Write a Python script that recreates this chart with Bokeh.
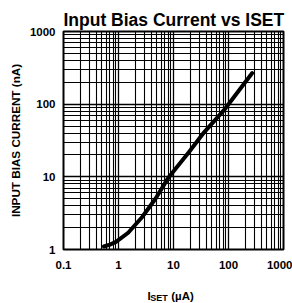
from bokeh.plotting import figure
from bokeh.layouts import column
from bokeh.models import FixedTicker, CustomJSTickFormatter, Range1d, Title
from bokeh.core.properties import value
from bokeh.embed import file_html
from bokeh.resources import INLINE

# ---- data ----
iset_uA = [0.54, 0.7, 0.9, 1.5, 2.7, 4.7, 8.2, 19.0, 36.0, 82.0, 270.0]
ibias_nA = [1.1, 1.17, 1.27, 1.7, 2.8, 5.0, 9.9, 21.8, 41.0, 82.0, 268.0]

x_ticks = [0.1, 1, 10, 100, 1000]
x_tick_labels = ["0.1", "1", "10", "100", "1000"]
y_ticks = [1, 10, 100, 1000]
y_tick_labels = ["1", "10", "100", "1000"]

title_text = "Input Bias Current vs ISET"
xlabel_main = "I"
xlabel_sub = "SET"
xlabel_unit = "(\u00b5A)"
ylabel = "INPUT BIAS CURRENT (nA)"

FONT = "Liberation Sans"
W = 292
BL, BR = 63, 9                  # left / right borders shared by both parts
H_MAIN, H_XLAB = 276, 27

x_minor = [m * 10.0 ** e for e in range(-1, 3) for m in range(2, 10)]
y_minor = [m * 10.0 ** e for e in range(0, 3) for m in range(2, 10)]

# ---- main chart ----
p = figure(
    x_axis_type="log", y_axis_type="log",
    x_range=(0.1, 1000), y_range=(1, 1000),
    width=W, height=H_MAIN,
    min_border_left=BL, min_border_right=BR,
    min_border_top=31, min_border_bottom=27,
    output_backend="svg", toolbar_location=None,
    background_fill_color="white", border_fill_color="white",
)
p.title = Title(text=title_text, align="left", offset=0, standoff=4,
                text_font=FONT, text_font_style="bold", text_font_size="17.5px",
                text_color="black")

fmt_code = """
const i = tvals.findIndex(t => Math.abs(t - tick) <= 1e-9 * Math.max(1, Math.abs(t)));
return i >= 0 ? tlabels[i] : "";
"""
p.xaxis.ticker = FixedTicker(ticks=x_ticks, minor_ticks=x_minor)
p.yaxis.ticker = FixedTicker(ticks=y_ticks, minor_ticks=y_minor)
p.xaxis.formatter = CustomJSTickFormatter(args=dict(tvals=x_ticks, tlabels=x_tick_labels), code=fmt_code)
p.yaxis.formatter = CustomJSTickFormatter(args=dict(tvals=y_ticks, tlabels=y_tick_labels), code=fmt_code)

for ax in (p.xaxis[0], p.yaxis[0]):
    ax.axis_line_color = None
    ax.major_tick_line_color = None
    ax.minor_tick_line_color = None
    ax.major_tick_out = 0
    ax.major_tick_in = 0
    ax.minor_tick_out = 0
    ax.minor_tick_in = 0
    ax.major_label_text_font = FONT
    ax.major_label_text_font_style = "bold"
    ax.major_label_text_font_size = "11.5px"
    ax.major_label_text_color = "black"

p.xaxis.major_label_standoff = 11
p.yaxis.major_label_standoff = 8
p.yaxis.axis_label = ylabel
p.yaxis.axis_label_text_font = FONT
p.yaxis.axis_label_text_font_style = "bold"
p.yaxis.axis_label_text_font_size = "11.7px"
p.yaxis.axis_label_text_color = "black"
p.yaxis.axis_label_standoff = 5

for g in (p.xgrid[0], p.ygrid[0]):
    g.grid_line_color = "black"
    g.grid_line_width = 1.3
    g.grid_line_alpha = 1.0
    g.minor_grid_line_color = "black"
    g.minor_grid_line_width = 1.1
    g.minor_grid_line_alpha = 1.0

p.outline_line_color = "black"
p.outline_line_width = 2
p.outline_line_alpha = 1.0

p.line(iset_uA, ibias_nA, line_color="black", line_width=4, line_cap="round", line_join="round")

# ---- x-axis label strip (with subscript); x in page pixels, y downward ----
b = figure(width=W, height=H_XLAB, x_range=Range1d(BL, W - BR), y_range=Range1d(H_XLAB, 0),
           x_axis_location=None, y_axis_location=None, title=None,
           min_border_left=BL, min_border_right=BR, min_border_top=0, min_border_bottom=0,
           output_backend="svg", toolbar_location=None,
           background_fill_color="white", border_fill_color="white")
b.grid.visible = False
b.outline_line_color = None


def put(f, txt, x, y, size):
    f.text(x=[x], y=[y], text=[txt], text_font=value(FONT), text_font_style="bold",
           text_font_size=size, text_color="black",
           text_baseline="alphabetic", text_align="left")


put(b, xlabel_main, 147, 19.5, "11.5px")
put(b, xlabel_sub, 149.8, 21.0, "9px")
put(b, xlabel_unit, 170.7, 19.5, "11.5px")

page = column(p, b, spacing=0)
open("out.html", "w").write(file_html(page, INLINE))
